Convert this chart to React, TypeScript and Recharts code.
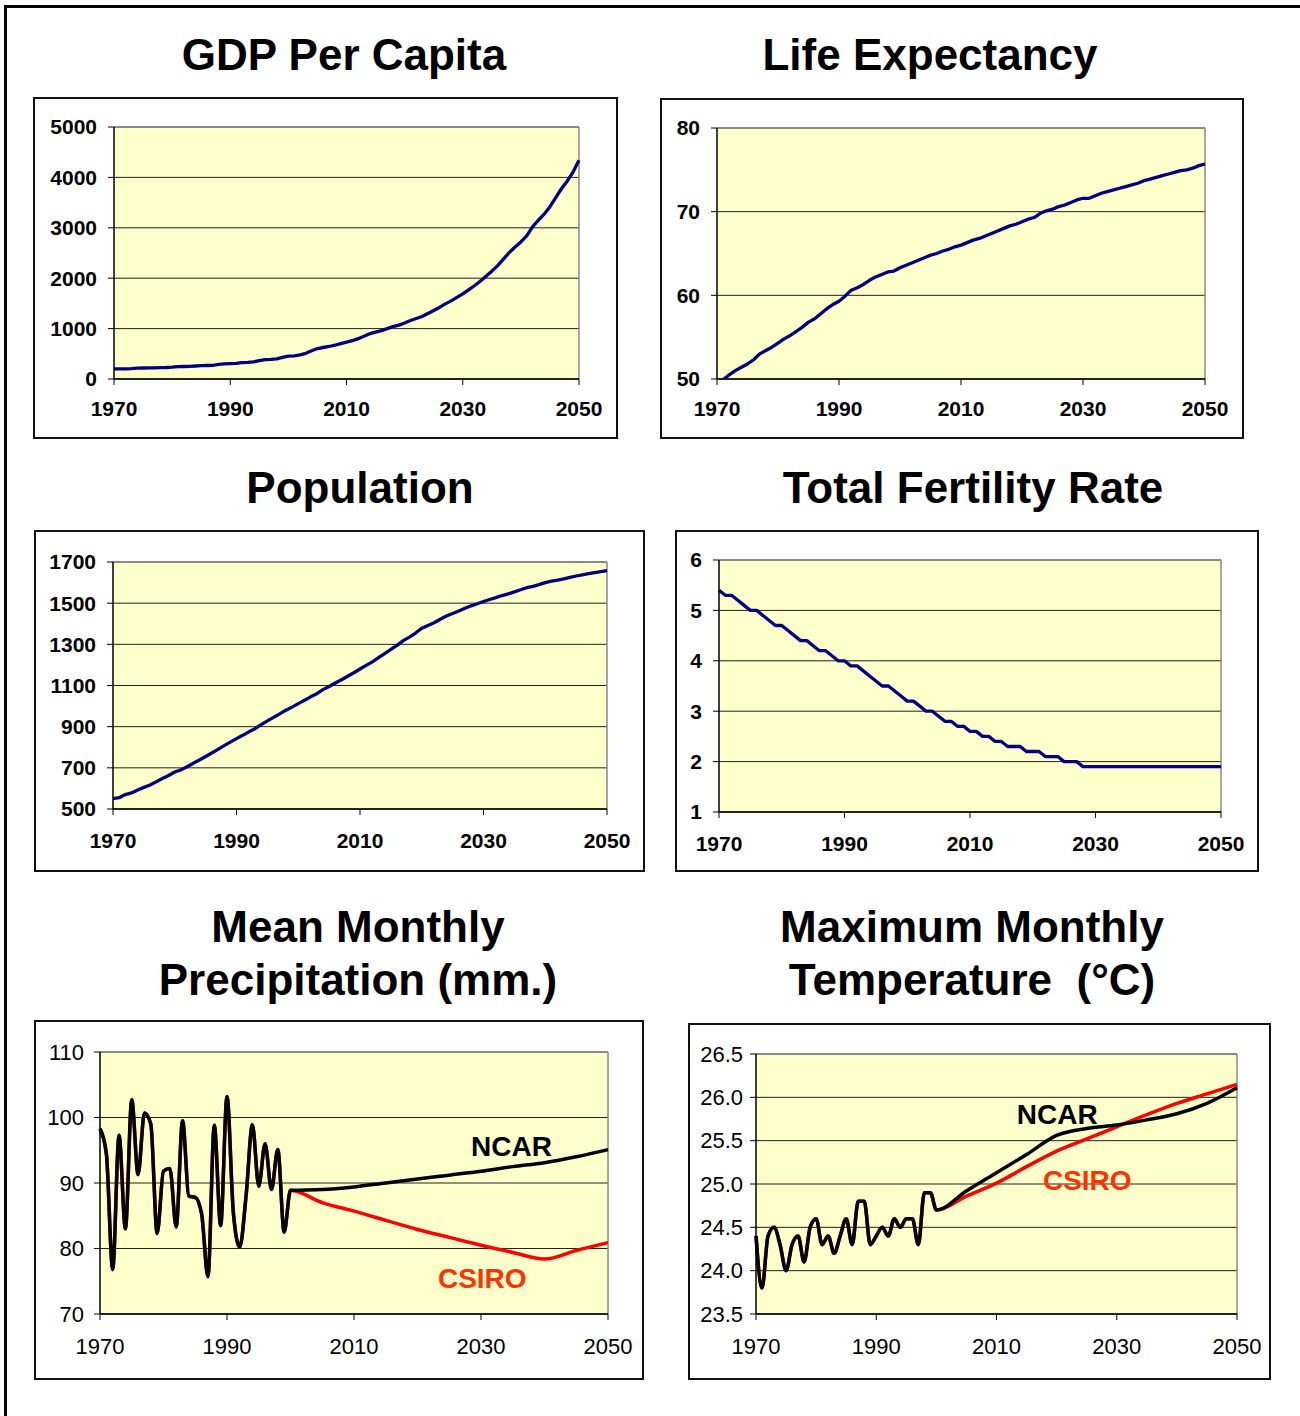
import React from 'react';
import {
  LineChart,
  Line,
  XAxis,
  YAxis,
  CartesianGrid,
  ReferenceLine,
  ReferenceDot,
} from 'recharts';

const FONT = "'Liberation Sans', Arial, Helvetica, sans-serif";

// years on the x axis
const years = Array.from({ length: 81 }, (_, i) => 1970 + i);
const xTicks = [1970, 1990, 2010, 2030, 2050];

// GDP per capita, 1970-2050
const gdp = [
  200, 200, 202, 205, 215, 218, 220, 222, 224, 228,
  235, 245, 248, 250, 258, 265, 268, 272, 290, 300,
  305, 310, 325, 330, 340, 365, 385, 390, 400, 430,
  455, 460, 480, 510, 560, 605, 625, 645, 670, 700,
  730, 760, 800, 850, 900, 930, 960, 1000, 1040, 1070,
  1110, 1160, 1200, 1240, 1300, 1360, 1420, 1490, 1550, 1620,
  1690, 1770, 1850, 1940, 2040, 2140, 2250, 2380, 2510, 2620,
  2720, 2840, 3020, 3150, 3270, 3420, 3600, 3780, 3930, 4110,
  4340,
];

// life expectancy, 1970-2050
const lifeExp = [
  49.6, 49.9, 50.5, 51.0, 51.4, 51.8, 52.3, 53.0, 53.4, 53.8,
  54.3, 54.8, 55.2, 55.7, 56.2, 56.8, 57.2, 57.8, 58.4, 58.9,
  59.3, 59.9, 60.6, 60.9, 61.3, 61.8, 62.2, 62.5, 62.8, 62.9,
  63.3, 63.6, 63.9, 64.2, 64.5, 64.8, 65.0, 65.3, 65.5, 65.8,
  66.0, 66.3, 66.6, 66.8, 67.1, 67.4, 67.7, 68.0, 68.3, 68.5,
  68.8, 69.1, 69.3, 69.8, 70.1, 70.3, 70.6, 70.8, 71.1, 71.4,
  71.6, 71.6, 71.9, 72.2, 72.4, 72.6, 72.8, 73.0, 73.2, 73.4,
  73.7, 73.9, 74.1, 74.3, 74.5, 74.7, 74.9, 75.0, 75.2, 75.5,
  75.7,
];

// population, 1970-2050
const population = [
  550, 555, 570, 578, 592, 605, 617, 632, 648, 663,
  680, 690, 705, 722, 738, 755, 772, 790, 808, 825,
  842, 858, 875, 890, 910, 928, 945, 962, 980, 995,
  1012, 1028, 1045, 1060, 1080, 1095, 1112, 1128, 1145, 1162,
  1180, 1198, 1215, 1235, 1255, 1275, 1295, 1318, 1335, 1355,
  1378, 1392, 1405, 1422, 1438, 1450, 1462, 1475, 1487, 1497,
  1508, 1518, 1527, 1537, 1545, 1555, 1565, 1575, 1582, 1590,
  1600, 1607, 1612, 1618, 1625, 1632, 1638, 1643, 1648, 1653,
  1658,
];

// total fertility rate, 1970-2050
const fertility = [
  5.4, 5.3, 5.3, 5.2, 5.1, 5.0, 5.0, 4.9, 4.8, 4.7,
  4.7, 4.6, 4.5, 4.4, 4.4, 4.3, 4.2, 4.2, 4.1, 4.0,
  4.0, 3.9, 3.9, 3.8, 3.7, 3.6, 3.5, 3.5, 3.4, 3.3,
  3.2, 3.2, 3.1, 3.0, 3.0, 2.9, 2.8, 2.8, 2.7, 2.7,
  2.6, 2.6, 2.5, 2.5, 2.4, 2.4, 2.3, 2.3, 2.3, 2.2,
  2.2, 2.2, 2.1, 2.1, 2.1, 2.0, 2.0, 2.0, 1.9, 1.9,
  1.9, 1.9, 1.9, 1.9, 1.9, 1.9, 1.9, 1.9, 1.9, 1.9,
  1.9, 1.9, 1.9, 1.9, 1.9, 1.9, 1.9, 1.9, 1.9, 1.9,
  1.9,
];

// observed climate, 1970-2000
const histYears = years.slice(0, 31);
const precipHist = [
  98.3, 94.5, 76.8, 97.3, 83.0, 102.7, 91.3, 100.7, 99.0, 82.3,
  91.8, 92.2, 83.3, 99.5, 88.0, 87.8, 85.3, 75.7, 98.8, 83.5,
  103.2, 85.5, 80.2, 88.0, 98.9, 89.5, 96.0, 89.0, 95.1, 82.5,
  88.9,
];
const tempHist = [
  24.4, 23.8, 24.4, 24.5, 24.3, 24.0, 24.3, 24.4, 24.1, 24.5,
  24.6, 24.3, 24.4, 24.2, 24.4, 24.6, 24.3, 24.8, 24.8, 24.3,
  24.4, 24.5, 24.4, 24.6, 24.5, 24.6, 24.6, 24.3, 24.9, 24.9,
  24.7,
];

// model projections, 2000-2050
const projYears = [2000, 2005, 2010, 2015, 2020, 2025, 2030, 2035, 2040, 2045, 2050];
const ncarPrecip = [88.9, 89.0, 89.4, 90.0, 90.6, 91.2, 91.8, 92.5, 93.1, 94.0, 95.1];
const csiroPrecip = [88.9, 87.0, 85.7, 84.3, 82.9, 81.7, 80.5, 79.4, 78.4, 79.7, 80.9];
const ncarTemp = [24.7, 24.92, 25.13, 25.34, 25.56, 25.64, 25.68, 25.74, 25.81, 25.93, 26.11];
const csiroTemp = [24.7, 24.86, 25.01, 25.2, 25.38, 25.52, 25.66, 25.8, 25.93, 26.04, 26.15];

const byYear = (vals: number[]) => years.map((year, i) => ({ year, v: vals[i] }));

function climateRows(hist: number[], ncar: number[], csiro: number[]) {
  const rows: { year: number; ncar?: number; csiro?: number }[] = histYears.map((year, i) => ({
    year,
    ncar: hist[i],
    csiro: hist[i],
  }));
  projYears.forEach((year, i) => {
    if (year === 2000) return;
    rows.push({ year, ncar: ncar[i], csiro: csiro[i] });
  });
  return rows;
}

type Series = { key: string; color: string; width: number; curve: 'linear' | 'monotone' };
type Note = { x: number; y: number; text: string; color: string };

interface PanelProps {
  box: [number, number, number, number]; // left, top, width, height
  plot: [number, number, number, number]; // left, top, right, bottom
  data: any[];
  yDomain: [number, number];
  yTicks: number[];
  series: Series[];
  bold: boolean;
  fontSize: number;
  yGap: number;
  xGap: number;
  yFormat?: (v: number) => string;
  notes?: Note[];
}

function Panel({ box, plot, data, yDomain, yTicks, series, bold, fontSize, yGap, xGap, yFormat, notes = [] }: PanelProps) {
  const [x0, y0, w, h] = box;
  const [px0, py0, px1, py1] = plot;
  const tick = { fill: '#000', fontSize, fontWeight: bold ? 700 : 400, fontFamily: FONT };

  return (
    <>
      <div
        style={{
          position: 'absolute',
          left: x0,
          top: y0,
          width: w,
          height: h,
          border: '2px solid #111',
          boxSizing: 'border-box',
          background: '#fff',
        }}
      />
      <div style={{ position: 'absolute', left: x0, top: y0 }}>
        <LineChart
          width={w}
          height={h}
          data={data}
          margin={{ top: py0 - y0, right: x0 + w - px1, bottom: 0, left: 0 }}
        >
          <CartesianGrid vertical={false} stroke="#222" fill="#FFFFCC" />
          <XAxis
            type="number"
            dataKey="year"
            domain={[1970, 2050]}
            ticks={xTicks}
            interval={0}
            height={y0 + h - py1}
            axisLine={{ stroke: '#000', strokeWidth: 1.5 }}
            tickLine={{ stroke: '#000' }}
            tickSize={6}
            tickMargin={xGap}
            tick={tick}
          />
          <YAxis
            type="number"
            domain={yDomain}
            ticks={yTicks}
            interval={0}
            allowDataOverflow
            width={px0 - x0}
            axisLine={{ stroke: '#000', strokeWidth: 1.5 }}
            tickLine={{ stroke: '#000' }}
            tickSize={6}
            tickMargin={yGap}
            tick={tick}
            tickFormatter={yFormat}
          />
          <ReferenceLine y={yDomain[1]} stroke="#888" strokeWidth={1.5} />
          <ReferenceLine x={2050} stroke="#888" strokeWidth={1.5} />
          {series.map((s) => (
            <Line
              key={s.key}
              dataKey={s.key}
              type={s.curve}
              stroke={s.color}
              strokeWidth={s.width}
              strokeLinejoin="round"
              dot={false}
              connectNulls
              isAnimationActive={false}
            />
          ))}
          {notes.map((n) => (
            <ReferenceDot
              key={n.text}
              x={n.x}
              y={n.y}
              r={0}
              fill="none"
              stroke="none"
              label={{
                value: n.text,
                position: 'center',
                fill: n.color,
                fontSize: 28,
                fontWeight: 700,
                fontFamily: FONT,
              }}
            />
          ))}
        </LineChart>
      </div>
    </>
  );
}

function Title({ cx, top, lines }: { cx: number; top: number; lines: string[] }) {
  return (
    <div
      style={{
        position: 'absolute',
        left: cx - 350,
        top,
        width: 700,
        textAlign: 'center',
        fontFamily: FONT,
        fontWeight: 700,
        fontSize: 44,
        lineHeight: '53px',
        whiteSpace: 'pre',
        color: '#000',
      }}
    >
      {lines.map((l) => (
        <div key={l}>{l}</div>
      ))}
    </div>
  );
}

const navy = (key: string): Series[] => [{ key, color: '#000080', width: 3.3, curve: 'linear' }];
const models: Series[] = [
  { key: 'csiro', color: '#ff0000', width: 3.5, curve: 'monotone' },
  { key: 'ncar', color: '#000000', width: 3.5, curve: 'monotone' },
];

export default function App() {
  return (
    <div style={{ position: 'absolute', left: 0, top: 0, width: 1300, height: 1416, background: '#fff' }}>
      <div
        style={{
          position: 'absolute',
          left: 4,
          top: 5,
          right: 0,
          bottom: 0,
          borderLeft: '3px solid #000',
          borderTop: '3px solid #000',
        }}
      />

      <Title cx={344} top={28} lines={['GDP Per Capita']} />
      <Title cx={930} top={28} lines={['Life Expectancy']} />
      <Title cx={360} top={461} lines={['Population']} />
      <Title cx={973} top={461} lines={['Total Fertility Rate']} />
      <Title cx={358} top={900} lines={['Mean Monthly', 'Precipitation (mm.)']} />
      <Title cx={972} top={900} lines={['Maximum Monthly', 'Temperature  (°C)']} />

      <Panel
        box={[33, 97, 585, 342]}
        plot={[114, 127, 579, 379]}
        data={byYear(gdp)}
        yDomain={[0, 5000]}
        yTicks={[0, 1000, 2000, 3000, 4000, 5000]}
        series={navy('v')}
        bold
        fontSize={21}
        yGap={11}
        xGap={16}
      />
      <Panel
        box={[660, 98, 584, 341]}
        plot={[717, 128, 1205, 379]}
        data={byYear(lifeExp)}
        yDomain={[50, 80]}
        yTicks={[50, 60, 70, 80]}
        series={navy('v')}
        bold
        fontSize={21}
        yGap={11}
        xGap={16}
      />
      <Panel
        box={[34, 530, 611, 342]}
        plot={[113, 562, 607, 809]}
        data={byYear(population)}
        yDomain={[500, 1700]}
        yTicks={[500, 700, 900, 1100, 1300, 1500, 1700]}
        series={navy('v')}
        bold
        fontSize={21}
        yGap={11}
        xGap={18}
      />
      <Panel
        box={[675, 530, 584, 342]}
        plot={[719, 560, 1221, 812]}
        data={byYear(fertility)}
        yDomain={[1, 6]}
        yTicks={[1, 2, 3, 4, 5, 6]}
        series={navy('v')}
        bold
        fontSize={21}
        yGap={11}
        xGap={18}
      />
      <Panel
        box={[34, 1020, 610, 360]}
        plot={[100, 1052, 608, 1314]}
        data={climateRows(precipHist, ncarPrecip, csiroPrecip)}
        yDomain={[70, 110]}
        yTicks={[70, 80, 90, 100, 110]}
        series={models}
        bold={false}
        fontSize={22}
        yGap={10}
        xGap={18}
        notes={[
          { x: 2034.8, y: 95.7, text: 'NCAR', color: '#000' },
          { x: 2030.2, y: 75.5, text: 'CSIRO', color: '#ff3300' },
        ]}
      />
      <Panel
        box={[688, 1023, 583, 357]}
        plot={[756, 1054, 1237, 1314]}
        data={climateRows(tempHist, ncarTemp, csiroTemp)}
        yDomain={[23.5, 26.5]}
        yTicks={[23.5, 24, 24.5, 25, 25.5, 26, 26.5]}
        series={models}
        bold={false}
        fontSize={22}
        yGap={7}
        xGap={18}
        yFormat={(v) => v.toFixed(1)}
        notes={[
          { x: 2020.1, y: 25.81, text: 'NCAR', color: '#000' },
          { x: 2025.1, y: 25.05, text: 'CSIRO', color: '#ff3300' },
        ]}
      />
    </div>
  );
}
